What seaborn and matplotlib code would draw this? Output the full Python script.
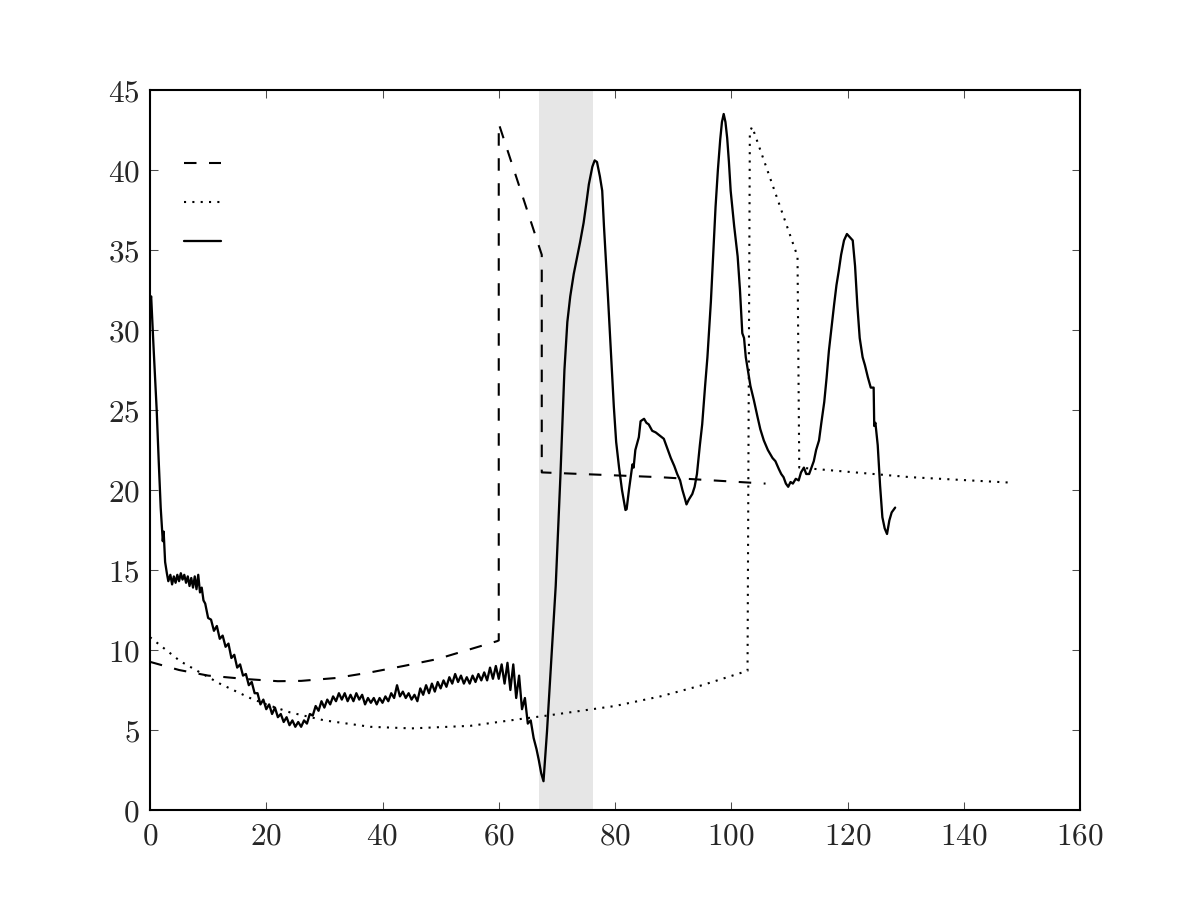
import numpy as np
import pandas as pd
import matplotlib
matplotlib.use('Agg')
import matplotlib.pyplot as plt
import seaborn as sns
from matplotlib.ticker import FuncFormatter

# Dashed series (x, y)
dashed_x = [0, 5, 10, 16.7, 22, 26, 32, 37.9, 43.6, 49.4, 55.1, 59.7, 60.0, 60.0, 67.4, 67.4, 87.8, 105.9]
dashed_y = [9.26, 8.75, 8.4, 8.18, 8.05, 8.07, 8.25, 8.6, 9.0, 9.43, 10.05, 10.55, 10.6, 42.9, 34.7, 21.1, 20.8, 20.4]

# Dotted series
dotted_x = [0, 5.2, 12, 17.2, 20, 24.1, 30, 37.9, 45, 55.1, 64, 68.3, 80, 87.8, 95, 102.8, 103.2, 103.6, 111.4, 111.7, 130.9, 148.1]
dotted_y = [10.8, 9.3, 7.9, 7.0, 6.6, 6.1, 5.6, 5.2, 5.1, 5.26, 5.7, 5.9, 6.5, 7.1, 7.8, 8.7, 42.4, 42.7, 34.6, 21.4, 20.8, 20.46]

# Solid series (measured signal)
solid_x = [0, 0.2, 0.6, 1.15, 1.5, 1.84, 2.2, 2.35, 2.6, 2.9, 3.15,
           3.5, 3.8, 4.1, 4.4, 4.7, 5.0, 5.3, 5.6, 5.9, 6.2, 6.5, 6.8, 7.1, 7.4, 7.7, 8.0, 8.3, 8.6, 8.9, 9.2,
           9.5, 10.0, 10.5, 11.0, 11.5, 12.0, 12.5, 13.0, 13.5, 14.0, 14.5, 15.0, 15.5, 16.0, 16.5, 17.0,
           17.5, 18.0, 18.5, 19.0, 19.5, 20.0, 20.5, 21.0, 21.5, 22.0, 22.5, 23.0, 23.5, 24.0, 24.5, 25.0,
           25.5, 26.0, 26.5, 27.0, 27.5, 28.0, 28.5, 29.0, 29.5, 30.0, 30.5, 31.0, 31.5, 32.0, 32.5, 33.0,
           33.5, 34.0, 34.5, 35.0, 35.5, 36.0, 36.5, 37.0, 37.5, 38.0, 38.5, 39.0, 39.5, 40.0, 40.5, 41.0,
           41.5, 42.0, 42.5, 43.0, 43.5, 44.0, 44.5, 45.0, 45.5, 46.0, 46.5, 47.0, 47.5, 48.0, 48.5, 49.0,
           49.5, 50.0, 50.5, 51.0, 51.5, 52.0, 52.5, 53.0, 53.5, 54.0, 54.5, 55.0, 55.5, 56.0, 56.5, 57.0,
           57.5, 58.0, 58.5, 59.0, 59.5, 60.0, 60.5, 61.0, 61.5, 62.0, 62.5, 63.0, 63.5, 64.0, 64.5, 65.0,
           65.5, 66.0, 66.5, 66.9, 67.3, 67.7,
           68.3, 68.9, 69.8, 70.6, 71.3, 71.8, 72.3, 72.9, 73.5, 74.0, 74.6, 75.1, 75.5, 76.1, 76.5, 76.9,
           77.4, 77.8, 78.1, 78.4, 78.8, 79.2, 79.8, 80.2, 80.7, 81.2, 81.8, 82.0, 82.4, 83.0, 83.2, 83.5,
           84.1, 84.4, 85.0, 85.4, 85.8, 86.4, 87.0, 87.7, 88.4, 89.0, 89.6, 90.2, 90.7, 91.2, 91.6, 92.0,
           92.3, 92.7, 93.3, 93.7, 94.1, 94.6, 95.0, 95.5, 95.9, 96.5, 97.0, 97.3, 97.7, 98.1, 98.4, 98.7,
           99.0, 99.3, 99.6, 99.9, 100.5, 101.1, 101.5, 101.9, 102.2, 102.5, 103.3, 103.9, 104.5, 105.0,
           105.6, 106.3, 107.1, 107.6, 108.2, 108.6, 109.0, 109.4, 109.8, 110.2, 110.6, 111.1, 111.6, 112.0,
           112.5, 112.9, 113.4, 113.8, 114.2, 114.6, 115.1, 115.5, 116.0, 116.4, 116.8, 117.2, 117.7, 118.1,
           118.5, 118.9, 119.4, 119.9, 120.4, 120.9, 121.3, 121.7, 122.1, 122.6, 123.0, 123.5, 124.0, 124.5,
           124.6, 124.8, 125.2, 125.6, 126.0, 126.4, 126.8, 127.2, 127.6, 128.2]
solid_y = [31.8, 32.1, 29.0, 25.0, 21.8, 18.9, 16.8, 17.4, 15.5, 14.8, 14.3,
           14.7, 14.1, 14.6, 14.2, 14.7, 14.3, 14.8, 14.4, 14.7, 14.2, 14.6, 14.0, 14.5, 13.9, 14.6, 13.8, 14.7, 13.6, 13.9, 13.1,
           12.9, 12.0, 11.9, 11.2, 11.5, 10.7, 10.9, 10.2, 10.4, 9.5, 9.7, 8.9, 9.1, 8.4, 8.5, 7.8,
           8.0, 7.3, 7.3, 6.6, 6.9, 6.3, 6.6, 6.0, 6.4, 5.8, 6.0, 5.5, 5.8, 5.3, 5.6, 5.2,
           5.5, 5.2, 5.6, 5.4, 6.0, 5.9, 6.5, 6.2, 6.8, 6.4, 6.9, 6.6, 7.1, 6.8, 7.3, 6.9,
           7.3, 6.8, 7.2, 6.8, 7.3, 6.9, 7.2, 6.6, 7.0, 6.7, 7.0, 6.6, 7.0, 6.7, 7.1, 6.8,
           7.3, 7.0, 7.8, 7.1, 7.4, 7.0, 7.3, 6.9, 7.2, 6.8, 7.6, 7.2, 7.8, 7.3, 7.9, 7.4,
           8.0, 7.6, 8.1, 7.7, 8.3, 7.9, 8.5, 8.0, 8.4, 7.9, 8.3, 7.9, 8.4, 8.0, 8.5, 8.1,
           8.6, 8.1, 8.9, 8.2, 9.0, 8.2, 9.1, 7.9, 9.2, 7.5, 9.1, 7.0, 8.4, 6.3, 7.0, 5.4,
           5.6, 4.5, 3.8, 3.1, 2.3, 1.8,
           4.9, 8.5, 14.0, 20.8, 27.5, 30.5, 32.1, 33.5, 34.6, 35.5, 36.7, 38.0, 39.1, 40.2, 40.6, 40.5,
           39.6, 38.7, 36.5, 34.6, 32.0, 29.3, 25.2, 23.0, 21.4, 20.0, 18.75, 18.8, 20.0, 21.6, 21.4, 22.5,
           23.3, 24.3, 24.45, 24.2, 24.1, 23.7, 23.6, 23.4, 23.2, 22.6, 22.0, 21.5, 21.0, 20.6, 20.0, 19.5,
           19.1, 19.4, 19.75, 20.2, 21.0, 22.8, 24.1, 26.5, 28.3, 31.8, 35.5, 37.7, 40.0, 41.9, 43.0, 43.5,
           43.0, 42.0, 40.5, 38.7, 36.5, 34.6, 32.5, 29.8, 29.5, 28.3, 26.5, 25.6, 24.6, 23.8,
           23.1, 22.5, 22.0, 21.8, 21.3, 21.0, 20.8, 20.4, 20.2, 20.5, 20.4, 20.7, 20.6, 21.1,
           21.4, 21.0, 21.0, 21.4, 21.8, 22.5, 23.1, 24.2, 25.5, 27.0, 28.7, 30.0, 31.6, 32.8,
           33.7, 34.7, 35.6, 36.0, 35.8, 35.6, 34.0, 31.5, 29.5, 28.3, 27.8, 27.05, 26.4, 26.4,
           24.0, 24.2, 22.8, 20.3, 18.3, 17.6, 17.25, 18.1, 18.6, 18.9]

# Shaded interval
span_start, span_end = 67.0, 76.2

sns.set_style('white')
plt.rcParams['mathtext.fontset'] = 'cm'
plt.rcParams['font.family'] = ['DejaVu Serif']
plt.rcParams['font.size'] = 12
plt.rcParams['lines.scale_dashes'] = False

fig, ax = plt.subplots(figsize=(8, 6), dpi=150)
fig.subplots_adjust(left=0.125, right=0.9, bottom=0.1, top=0.9)

ax.axvspan(span_start, span_end, color='0.9', lw=0, zorder=0)

df_dash = pd.DataFrame({'x': dashed_x, 'y': dashed_y})
df_dot = pd.DataFrame({'x': dotted_x, 'y': dotted_y})
df_solid = pd.DataFrame({'x': solid_x, 'y': solid_y})

sns.lineplot(data=df_dash, x='x', y='y', ax=ax, estimator=None, sort=False,
             color='black', lw=1.0)
ax.lines[-1].set_dashes((6, 6))
sns.lineplot(data=df_dot, x='x', y='y', ax=ax, estimator=None, sort=False,
             color='black', lw=1.0)
ax.lines[-1].set_dashes((1, 3))
sns.lineplot(data=df_solid, x='x', y='y', ax=ax, estimator=None, sort=False,
             color='black', lw=1.1)

ax.set_xlim(0, 160)
ax.set_ylim(0, 45)
ax.set_xticks([0, 20, 40, 60, 80, 100, 120, 140, 160])
ax.set_yticks([0, 5, 10, 15, 20, 25, 30, 35, 40, 45])
fmt = FuncFormatter(lambda v, p: '$%d$' % v)
ax.xaxis.set_major_formatter(fmt)
ax.yaxis.set_major_formatter(fmt)
ax.set_xlabel('')
ax.set_ylabel('')
ax.tick_params(direction='in', length=4, width=0.5, top=True, right=True,
               bottom=True, left=True, labelsize=15, pad=5, color='0.3')
for s in ax.spines.values():
    s.set_color('black')
    s.set_linewidth(1.0)

handles = ax.lines[:3]
ax.legend(handles, ['', '', ''], loc='upper left', frameon=False,
          handlelength=1.5, labelspacing=0.64, bbox_to_anchor=(0.012, 0.943))

plt.savefig('out.png', dpi=150)
